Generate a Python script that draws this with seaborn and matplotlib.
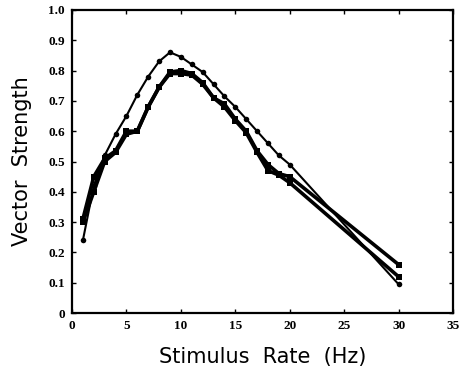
import numpy as np
import pandas as pd
import matplotlib
matplotlib.use("Agg")
import matplotlib.pyplot as plt
import seaborn as sns

rate = [1, 2, 3, 4, 5, 6, 7, 8, 9, 10, 11, 12, 13, 14, 15, 16, 17, 18, 19, 20, 30]
series_a = [0.24, 0.42, 0.52, 0.59, 0.65, 0.72, 0.78, 0.83, 0.86, 0.845, 0.82, 0.795,
            0.755, 0.715, 0.68, 0.64, 0.60, 0.56, 0.52, 0.49, 0.095]
series_b = [0.31, 0.45, 0.51, 0.535, 0.60, 0.60, 0.68, 0.745, 0.795, 0.80, 0.79, 0.76,
            0.71, 0.69, 0.64, 0.60, 0.535, 0.49, 0.46, 0.45, 0.16]
series_c = [0.30, 0.40, 0.50, 0.53, 0.59, 0.60, 0.68, 0.745, 0.79, 0.79, 0.785, 0.755,
            0.71, 0.68, 0.635, 0.595, 0.53, 0.47, 0.455, 0.43, 0.12]
x_ticks = [0, 5, 10, 15, 20, 25, 30, 35]
y_ticks = [0, 0.1, 0.2, 0.3, 0.4, 0.5, 0.6, 0.7, 0.8, 0.9, 1.0]
y_tick_labels = ["0", "0.1", "0.2", "0.3", "0.4", "0.5", "0.6", "0.7", "0.8", "0.9", "1.0"]

sns.set_style("ticks")
plt.rcParams['font.family'] = ['DejaVu Sans']
plt.rcParams['text.color'] = 'black'
plt.rcParams['axes.labelcolor'] = 'black'
plt.rcParams['xtick.color'] = 'black'
plt.rcParams['ytick.color'] = 'black'
plt.rcParams['axes.edgecolor'] = 'black'

fig = plt.figure(figsize=(4.63, 3.80), dpi=100)
ax = fig.add_axes([0.1555, 0.176, 0.823, 0.798])

df_a = pd.DataFrame({"rate": rate, "vs": series_a})
df_b = pd.DataFrame({"rate": rate, "vs": series_b})
df_c = pd.DataFrame({"rate": rate, "vs": series_c})

sns.lineplot(data=df_a, x="rate", y="vs", ax=ax, color="black", linewidth=1.5,
             marker="o", markersize=4, markeredgewidth=0)
sns.lineplot(data=df_b, x="rate", y="vs", ax=ax, color="black", linewidth=2.6,
             marker="s", markersize=5, markeredgewidth=0)
sns.lineplot(data=df_c, x="rate", y="vs", ax=ax, color="black", linewidth=2.6,
             marker="s", markersize=5, markeredgewidth=0)

ax.set_xlim(0, 35)
ax.set_ylim(0, 1.0)
ax.set_xticks(x_ticks)
ax.set_xticklabels([str(t) for t in x_ticks], fontfamily="Liberation Serif",
                   fontweight="bold", fontsize=9.5)
ax.set_yticks(y_ticks)
ax.set_yticklabels(y_tick_labels, fontfamily="Liberation Serif",
                   fontweight="bold", fontsize=9.5)
ax.tick_params(direction="in", length=3, width=1, top=True, right=True, pad=5)
for s in ax.spines.values():
    s.set_linewidth(1.6)
    s.set_visible(True)

ax.set_xlabel("Stimulus  Rate  (Hz)", fontsize=15, labelpad=11)
ax.set_ylabel("Vector  Strength", fontsize=15, labelpad=12)

fig.savefig("out.png", dpi=100)
